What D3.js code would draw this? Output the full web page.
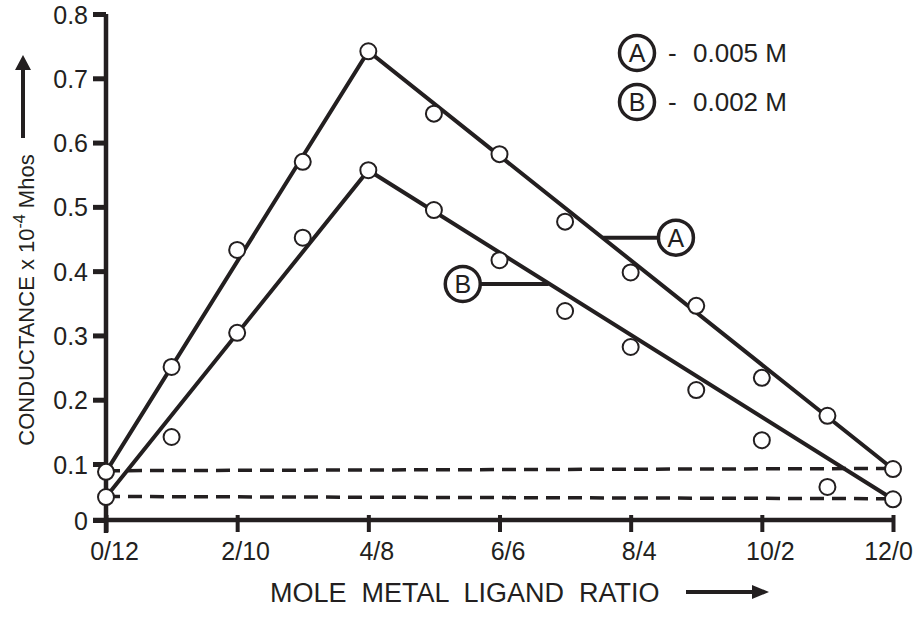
<!DOCTYPE html>
<html>
<head>
<meta charset="utf-8">
<script src="https://cdn.jsdelivr.net/npm/d3@7"></script>
<style>
  body { margin: 0; background: #fff; }
  svg { display: block; }
  text { font-family: Arial, "Liberation Sans", sans-serif; fill: #231f20; }
</style>
</head>
<body>
<div id="chart"></div>
<script>
// mole ratio steps (metal / ligand, out of 12)
const ratioSteps = [0, 1, 2, 3, 4, 5, 6, 7, 8, 9, 10, 11, 12];
const ratioTicks = [0, 2, 4, 6, 8, 10, 12];
const ratioLabels = ['0/12', '2/10', '4/8', '6/6', '8/4', '10/2', '12/0'];
const conductanceTicks = [0, 0.1, 0.2, 0.3, 0.4, 0.5, 0.6, 0.7, 0.8];

// measured points, A = 0.005 M, B = 0.002 M
const conductanceA = [0.086, 0.251, 0.433, 0.570, 0.742, 0.645, 0.582, 0.477, 0.398, 0.346, 0.234, 0.175, 0.091];
const conductanceB = [0.041, 0.142, 0.304, 0.452, 0.557, 0.495, 0.417, 0.338, 0.282, 0.215, 0.137, 0.059, 0.037];

// drawn straight-line fits
const fitA = [[0, 0.086], [4, 0.742], [12, 0.091]];
const fitB = [[0, 0.041], [4, 0.557], [12, 0.037]];
// dashed base lines
const baseA = [[0, 0.088], [12, 0.092]];
const baseB = [[0, 0.042], [12, 0.038]];

// curve labels: where the leader meets the line, where the letter sits
const curveLabels = [
  { name: 'A', lineX: 7.58, labelX: 8.69, value: 0.452 },
  { name: 'B', lineX: 6.75, labelX: 5.44, value: 0.380 }
];
const legendItems = [
  { name: 'A', text: '0.005 M' },
  { name: 'B', text: '0.002 M' }
];

const W = 914, H = 619;
const ink = '#231f20';

const svg = d3.select('#chart').append('svg')
  .attr('width', W)
  .attr('height', H);

const x = d3.scaleLinear().domain([0, 12]).range([106, 893]);
// the printed axis squeezes the 0-0.1 interval a little
const y = d3.scaleLinear().domain([0, 0.1, 0.8]).range([520, 464, 14]);

// axes lines
svg.append('line')
  .attr('x1', x(0)).attr('x2', x(0))
  .attr('y1', y(0.8)).attr('y2', y(0) + 13)
  .style('stroke', ink).style('stroke-width', 4.5);
svg.append('line')
  .attr('x1', x(0) - 13).attr('x2', x(12) + 2)
  .attr('y1', y(0)).attr('y2', y(0))
  .style('stroke', ink).style('stroke-width', 4.5);

const yAxis = svg.append('g')
  .attr('transform', `translate(${x(0)},0)`)
  .call(d3.axisLeft(y)
    .tickValues(conductanceTicks)
    .tickSize(13)
    .tickPadding(5)
    .tickFormat(d => d === 0 ? '0' : d.toFixed(1)));
yAxis.select('.domain').remove();
yAxis.selectAll('.tick line').style('stroke', ink).style('stroke-width', 5);
yAxis.selectAll('.tick text')
  .style('font-size', '25px')
  .style('fill', ink)
  .attr('dy', '0.36em');

const xAxis = svg.append('g')
  .attr('transform', `translate(0,${y(0)})`)
  .call(d3.axisBottom(x)
    .tickValues(ratioTicks)
    .tickSize(12)
    .tickPadding(10)
    .tickFormat((d, i) => ratioLabels[i]));
xAxis.select('.domain').remove();
xAxis.selectAll('.tick line')
  .attr('y1', -5)
  .style('stroke', ink).style('stroke-width', 4);
xAxis.selectAll('.tick text')
  .attr('dx', (d, i) => i === ratioTicks.length - 1 ? -5 : 8)
  .style('font-size', '25px')
  .style('fill', ink);

// dashed base lines
const line = d3.line().x(d => x(d[0])).y(d => y(d[1]));
[baseA, baseB].forEach(b => {
  svg.append('path')
    .attr('d', line(b))
    .style('fill', 'none')
    .style('stroke', ink)
    .style('stroke-width', 3.5)
    .style('stroke-dasharray', '14,8');
});

// fitted lines
[fitA, fitB].forEach(f => {
  svg.append('path')
    .attr('d', line(f))
    .style('fill', 'none')
    .style('stroke', ink)
    .style('stroke-width', 4);
});

// points
[conductanceA, conductanceB].forEach(vals => {
  svg.append('g').selectAll('circle')
    .data(vals)
    .enter()
    .append('circle')
    .attr('cx', (d, i) => x(ratioSteps[i]))
    .attr('cy', d => y(d))
    .attr('r', 8)
    .style('fill', '#fff')
    .style('stroke', ink)
    .style('stroke-width', 2);
});

// curve labels with leaders
curveLabels.forEach(c => {
  const lx = x(c.labelX), ly = y(c.value);
  const toRight = c.labelX > c.lineX;
  svg.append('line')
    .attr('x1', x(c.lineX))
    .attr('x2', toRight ? lx - 17 : lx + 17)
    .attr('y1', ly).attr('y2', ly)
    .style('stroke', ink).style('stroke-width', 4);
  svg.append('circle')
    .attr('cx', lx).attr('cy', ly).attr('r', 17.5)
    .style('fill', '#fff').style('stroke', ink).style('stroke-width', 3.5);
  svg.append('text')
    .attr('x', lx).attr('y', ly)
    .attr('dy', '0.36em')
    .attr('text-anchor', 'middle')
    .style('font-size', '25px')
    .text(c.name);
});

// legend
const legend = svg.append('g').attr('transform', 'translate(637,53)');
legendItems.forEach((item, i) => {
  const g = legend.append('g').attr('transform', `translate(0,${i * 49})`);
  g.append('circle')
    .attr('r', 17.5)
    .style('fill', '#fff').style('stroke', ink).style('stroke-width', 3.5);
  g.append('text')
    .attr('text-anchor', 'middle')
    .attr('dy', '0.36em')
    .style('font-size', '25px')
    .text(item.name);
  g.append('text')
    .attr('x', 31)
    .attr('dy', '0.36em')
    .style('font-size', '26px')
    .text('-');
  g.append('text')
    .attr('x', 56)
    .attr('dy', '0.36em')
    .style('font-size', '26px')
    .text(item.text);
});

// y title with arrow
const yTitle = svg.append('text')
  .attr('transform', 'translate(34,300) rotate(-90)')
  .attr('text-anchor', 'middle')
  .style('font-size', '22px');
yTitle.append('tspan').text('CONDUCTANCE x 10');
yTitle.append('tspan').attr('dy', -9).style('font-size', '16px').text('-4');
yTitle.append('tspan').attr('dy', 9).text(' Mhos');

svg.append('line')
  .attr('x1', 23).attr('x2', 23)
  .attr('y1', 138).attr('y2', 66)
  .style('stroke', ink).style('stroke-width', 4);
svg.append('path')
  .attr('d', 'M23,55 L15,70 L31,70 Z')
  .style('fill', ink);

// x title with arrow
svg.append('text')
  .attr('x', 270).attr('y', 602)
  .style('font-size', '27px')
  .style('white-space', 'pre')
  .text('MOLE  METAL  LIGAND  RATIO');
svg.append('line')
  .attr('x1', 686).attr('x2', 756)
  .attr('y1', 592).attr('y2', 592)
  .style('stroke', ink).style('stroke-width', 4);
svg.append('path')
  .attr('d', 'M769,592 L752,585 L752,599 Z')
  .style('fill', ink);
</script>
</body>
</html>
